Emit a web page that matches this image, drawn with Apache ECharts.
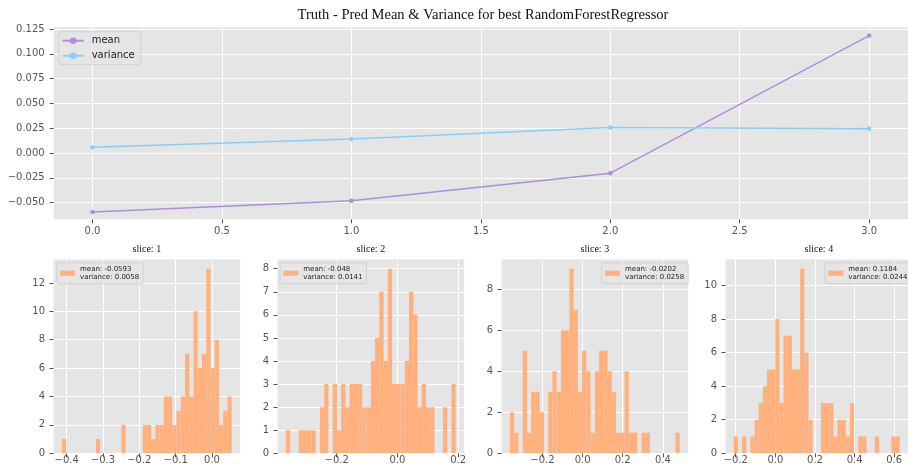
<!DOCTYPE html>
<html>
<head>
<meta charset="utf-8">
<title>Truth - Pred Mean & Variance</title>
<script src="https://cdn.jsdelivr.net/npm/echarts@6/dist/echarts.min.js"></script>
<style>
  html, body { margin: 0; padding: 0; background: #ffffff; }
  #chart { width: 908px; height: 471px; }
</style>
</head>
<body>
<div id="chart"></div>
<script>
// ---- summary line chart data ----
const sliceIndex = [0, 1, 2, 3];
const meanValues = [-0.0593, -0.048, -0.0202, 0.1184];
const varianceValues = [0.0058, 0.0141, 0.0258, 0.0244];
const topXTicks = [0, 0.5, 1, 1.5, 2, 2.5, 3];
const topYTicks = [-0.05, -0.025, 0, 0.025, 0.05, 0.075, 0.1, 0.125];

// ---- per-slice histogram data (40 bins each) ----
const sliceNames = ['slice: 1', 'slice: 2', 'slice: 3', 'slice: 4'];
const sliceMeanText = ['-0.0593', '-0.048', '-0.0202', '0.1184'];
const sliceVarText = ['0.0058', '0.0141', '0.0258', '0.0244'];
const binStart = [-0.4129, -0.367, -0.3617, -0.2098];
const binWidth = [0.01168, 0.01398, 0.02114, 0.02094];
const counts1 = [1,0,0,0,0,0,0,0,1,0, 0,0,0,0,2,0,0,0,0,2, 2,1,2,2,4,4,2,3,4,7, 4,10,6,7,13,6,8,2,3,4];
const counts2 = [1,0,0,1,1,1,1,0,2,3, 0,3,1,3,2,3,3,3,2,2, 4,5,7,4,8,3,3,3,4,7, 6,2,3,2,2,0,0,2,0,3];
const counts3 = [2,1,0,5,1,3,3,2,0,3, 4,3,6,6,9,7,3,5,4,1, 4,5,5,4,3,1,1,4,1,1, 0,1,1,0,0,0,0,0,0,1];
const counts4 = [1,0,1,0,1,2,3,4,5,5, 8,3,7,7,5,5,11,6,2,0, 0,3,3,3,1,2,2,1,3,0, 1,1,0,0,1,0,0,0,1,1];
const sliceCounts = [counts1, counts2, counts3, counts4];
const sliceXTicks = [
  [-0.4, -0.3, -0.2, -0.1, 0],
  [-0.2, 0, 0.2],
  [-0.2, 0, 0.2, 0.4],
  [-0.2, 0, 0.2, 0.4, 0.6]
];
const sliceYTicks = [
  [0, 2, 4, 6, 8, 10, 12],
  [0, 1, 2, 3, 4, 5, 6, 7, 8],
  [0, 2, 4, 6, 8],
  [0, 2, 4, 6, 8, 10]
];

// ---- styling ----
const PANEL_BG = '#E5E5E5';
const TICK_COLOR = '#555555';
const SANS = 'DejaVu Sans';
const SERIF = 'Liberation Serif';
const MEAN_COLOR = '#B08CDC';
const VAR_COLOR = '#87CEFA';
const HIST_COLOR = '#FFB07C';

const minus = s => s.replace('-', '\u2212');

function valueAxis(gridIndex, min, max, ticks, decimals, labelMargin) {
  return {
    type: 'value',
    gridIndex: gridIndex,
    min: min,
    max: max,
    axisLine: { show: false, onZero: false },
    axisTick: {
      show: true, inside: false, length: 4,
      lineStyle: { color: TICK_COLOR, width: 1 },
      customValues: ticks
    },
    axisLabel: {
      color: TICK_COLOR, fontFamily: SANS, fontSize: 10, margin: labelMargin,
      customValues: ticks,
      showMinLabel: true, showMaxLabel: true,
      formatter: v => minus(Number(v).toFixed(decimals))
    },
    splitLine: { show: true, lineStyle: { color: '#ffffff', width: 1 } }
  };
}

const grids = [{ left: 53.7, top: 27.3, width: 858.6, height: 192 }];
const sliceLefts = [53.5, 277.5, 501.5, 725.5];
sliceLefts.forEach(l => grids.push({ left: l, top: 259.5, width: 186.7, height: 193.8 }));
grids.forEach(g => { g.show = true; g.backgroundColor = PANEL_BG; g.borderWidth = 0; g.containLabel = false; });

const xAxes = [valueAxis(0, -0.15, 3.15, topXTicks, 1, 7)];
const yAxes = [valueAxis(0, -0.0667, 0.1267, topYTicks, 3, 9)];

const series = [
  {
    name: 'mean', type: 'line', xAxisIndex: 0, yAxisIndex: 0,
    data: sliceIndex.map((x, i) => [x, meanValues[i]]),
    symbol: 'circle', symbolSize: 4.5,
    color: MEAN_COLOR,
    lineStyle: { width: 1.5, color: MEAN_COLOR },
    itemStyle: { color: MEAN_COLOR },
    animation: false
  },
  {
    name: 'variance', type: 'line', xAxisIndex: 0, yAxisIndex: 0,
    data: sliceIndex.map((x, i) => [x, varianceValues[i]]),
    symbol: 'circle', symbolSize: 4.5,
    color: VAR_COLOR,
    lineStyle: { width: 1.5, color: VAR_COLOR },
    itemStyle: { color: VAR_COLOR },
    animation: false
  }
];

const titles = [{
  text: 'Truth - Pred Mean & Variance for best RandomForestRegressor',
  left: 483, top: 8, padding: 0, textAlign: 'center',
  textStyle: { fontFamily: SERIF, fontSize: 14.5, fontWeight: 'normal', color: '#111111' }
}];

const legends = [{
  data: ['mean', 'variance'],
  orient: 'vertical',
  left: 58.7, top: 31.7,
  padding: [4, 6, 4, 3],
  itemWidth: 21, itemHeight: 8, itemGap: 5,
  backgroundColor: 'rgba(229,229,229,0.8)',
  borderColor: 'rgba(204,204,204,0.8)', borderWidth: 1, borderRadius: 3,
  textStyle: { fontFamily: SANS, fontSize: 10, color: '#222222', padding: [0, 0, 0, 3] }
}];

const legendLefts = [56.7, 280, 601.7, 825];

sliceCounts.forEach((counts, k) => {
  const gi = k + 1;
  const lo = binStart[k];
  const hi = binStart[k] + counts.length * binWidth[k];
  const pad = 0.05 * (hi - lo);
  const yMax = 1.05 * Math.max.apply(null, counts);
  xAxes.push(valueAxis(gi, lo - pad, hi + pad, sliceXTicks[k], 1, 2));
  yAxes.push(valueAxis(gi, 0, yMax, sliceYTicks[k], 0, 8.5));

  const bins = counts.map((c, i) => [binStart[k] + i * binWidth[k], binStart[k] + (i + 1) * binWidth[k], c])
                     .filter(b => b[2] > 0);
  const name = 'hist' + (k + 1);
  series.push({
    name: name, type: 'custom', xAxisIndex: gi, yAxisIndex: gi,
    color: HIST_COLOR,
    itemStyle: { color: HIST_COLOR },
    encode: { x: [0, 1], y: 2 },
    data: bins,
    clip: true,
    animation: false,
    renderItem: (params, api) => {
      const p0 = api.coord([api.value(0), api.value(2)]);
      const p1 = api.coord([api.value(1), 0]);
      return {
        type: 'rect',
        shape: { x: p0[0], y: p0[1], width: p1[0] - p0[0], height: p1[1] - p0[1] },
        style: { fill: HIST_COLOR }
      };
    }
  });

  titles.push({
    text: sliceNames[k],
    left: grids[gi].left + grids[gi].width / 2, top: 244.5, padding: 0, textAlign: 'center',
    textStyle: { fontFamily: SERIF, fontSize: 10, fontWeight: 'normal', color: '#111111' }
  });

  legends.push({
    data: [name],
    left: legendLefts[k], top: 262.7,
    padding: [3, 4, 3, 3.3],
    itemWidth: 15, itemHeight: 5,
    icon: 'rect',
    backgroundColor: 'rgba(229,229,229,0.8)',
    borderColor: 'rgba(204,204,204,0.8)', borderWidth: 1, borderRadius: 2,
    formatter: () => 'mean: ' + sliceMeanText[k] + '\nvariance: ' + sliceVarText[k],
    textStyle: { fontFamily: SANS, fontSize: 7, lineHeight: 7.5, color: '#222222' }
  });
});

const chart = echarts.init(document.getElementById('chart'), null, { renderer: 'canvas' });
chart.setOption({
  backgroundColor: '#ffffff',
  animation: false,
  title: titles,
  legend: legends,
  grid: grids,
  xAxis: xAxes,
  yAxis: yAxes,
  series: series
});
</script>
</body>
</html>
